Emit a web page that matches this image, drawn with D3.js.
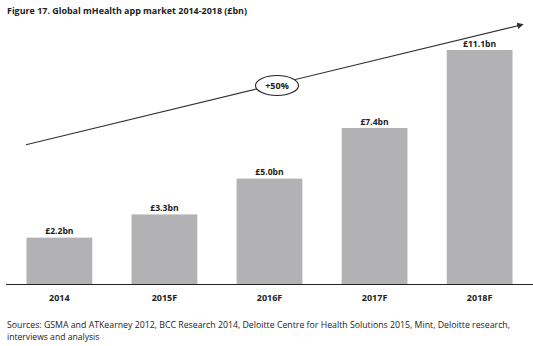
<!DOCTYPE html>
<html><head><meta charset="utf-8">
<script src="https://cdn.jsdelivr.net/npm/d3@7"></script>
<style>body{margin:0;background:#fff}</style>
</head><body>
<script>
const categories = ["2014","2015F","2016F","2017F","2018F"];
const values = [2.2, 3.3, 5.0, 7.4, 11.1];
const valueLabels = ["£2.2bn","£3.3bn","£5.0bn","£7.4bn","£11.1bn"];
const growthLabel = "+50%";
const title = "Figure 17. Global mHealth app market 2014-2018 (£bn)";
const sources = ["Sources: GSMA and ATKearney 2012, BCC Research 2014, Deloitte Centre for Health Solutions 2015, Mint, Deloitte research,",
                 "interviews and analysis"];

const W = 533, H = 346;
const font = "'Open Sans', sans-serif";
const svg = d3.select("body").append("svg").attr("width", W).attr("height", H);

svg.append("text").attr("x", 7).attr("y", 13.5).text(title)
  .attr("font-family", font).attr("font-weight", "bold").attr("font-size", 9.6).attr("fill", "#222")
  .attr("textLength", 240).attr("lengthAdjust", "spacingAndGlyphs");

const x = d3.scaleBand().domain(categories).range([6, 533]).paddingInner(0.374).paddingOuter(0.195);
const y = d3.scaleLinear().domain([0, 11.1]).range([284, 50]);

svg.selectAll("rect.bar").data(values).join("rect").attr("class", "bar")
  .attr("x", (d, i) => x(categories[i])).attr("width", x.bandwidth())
  .attr("y", d => y(d)).attr("height", d => y(0) - y(d)).attr("fill", "#b2b2b4");

svg.selectAll("text.val").data(values).join("text").attr("class", "val")
  .attr("x", (d, i) => x(categories[i]) + x.bandwidth() / 2).attr("y", d => y(d) - 3.5)
  .attr("text-anchor", "middle").text((d, i) => valueLabels[i])
  .attr("font-family", font).attr("font-weight", "bold").attr("font-size", 8.6).attr("fill", "#222");

const axis = svg.append("g").attr("transform", `translate(0,${y(0)})`)
  .call(d3.axisBottom(x).tickSize(0).tickPadding(11));
axis.select(".domain").attr("d", "M6,0.5H533").attr("stroke", "#222").attr("stroke-width", 1.2);
axis.selectAll("text").attr("font-family", font).attr("font-weight", "bold").attr("font-size", 9).attr("fill", "#222");

// trend arrow
const defs = svg.append("defs");
defs.append("marker").attr("id", "arr").attr("viewBox", "0 0 10 10").attr("refX", 9).attr("refY", 5)
  .attr("markerWidth", 6).attr("markerHeight", 6).attr("orient", "auto")
  .append("path").attr("d", "M0,0L10,5L0,10z").attr("fill", "#333");
const x0 = x(categories[0]) - 0.5, y0 = 144.7, x1 = 523, y1 = 24.5;
svg.append("line").attr("x1", x0).attr("y1", y0).attr("x2", x1).attr("y2", y1)
  .attr("stroke", "#333").attr("stroke-width", 1.1).attr("marker-end", "url(#arr)");
const cx = 277, cy = y0 + (y1 - y0) * (cx - x0) / (x1 - x0) + 1.5;
svg.append("ellipse").attr("cx", cx).attr("cy", cy).attr("rx", 21.5).attr("ry", 10)
  .attr("fill", "#fff").attr("stroke", "#222").attr("stroke-width", 1.1);
svg.append("text").attr("x", cx).attr("y", cy + 3.2).attr("text-anchor", "middle").text(growthLabel)
  .attr("font-family", font).attr("font-weight", "bold").attr("font-size", 9).attr("fill", "#222");

svg.selectAll("text.src").data(sources).join("text").attr("class", "src")
  .attr("x", 7).attr("y", (d, i) => 328 + i * 12).text(d => d)
  .attr("font-family", font).attr("font-size", 8.6).attr("fill", "#222")
  .attr("textLength", (d, i) => i === 0 ? 503 : null).attr("lengthAdjust", "spacingAndGlyphs");
</script>
</body></html>
